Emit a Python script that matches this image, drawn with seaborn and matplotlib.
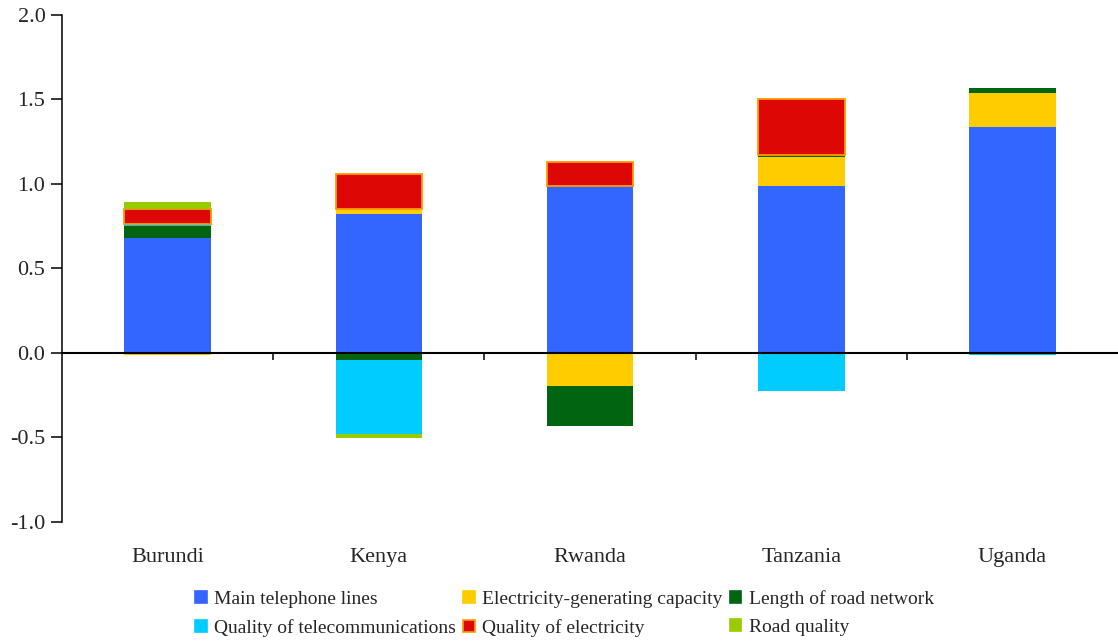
import numpy as np
import pandas as pd
import matplotlib
matplotlib.use('Agg')
import matplotlib.pyplot as plt
import seaborn as sns
from matplotlib.patches import Patch

countries = ['Burundi', 'Kenya', 'Rwanda', 'Tanzania', 'Uganda']

# contributions per country, one list per series
telephone_lines = [0.68, 0.82, 0.99, 0.99, 1.34]
elec_capacity = [-0.01, 0.03, -0.195, 0.17, 0.20]
road_length = [0.07, -0.04, -0.24, 0.01, 0.03]
telecom_quality = [0.015, -0.44, 0.0, -0.225, -0.01]
elec_quality = [0.085, 0.21, 0.14, 0.33, 0.0]
road_quality = [0.045, -0.025, 0.0, 0.0, 0.0]

series_names = ['Main telephone lines', 'Electricity-generating capacity',
                'Length of road network', 'Quality of telecommunications',
                'Quality of electricity', 'Road quality']
series_values = [telephone_lines, elec_capacity, road_length,
                 telecom_quality, elec_quality, road_quality]
series_colors = ['#3366FF', '#FFCC00', '#006411', '#00CCFF', '#DD0806', '#99CC00']
series_edges = ['none', 'none', 'none', 'none', '#FF9900', 'none']

sns.set_style('white')
plt.rcParams['font.family'] = ['Liberation Serif', 'DejaVu Serif']

fig = plt.figure(figsize=(11.18, 6.41), dpi=100)
ax = fig.add_axes([0.0555, 0.1857, 0.9445, 0.7909])

pos_base = np.zeros(len(countries))
neg_base = np.zeros(len(countries))
for name, vals, col, edge in zip(series_names, series_values, series_colors, series_edges):
    vals = np.array(vals, dtype=float)
    bottom = np.where(vals >= 0, pos_base, neg_base)
    df = pd.DataFrame({'country': countries, 'value': vals})
    n_before = len(ax.patches)
    sns.barplot(data=df, x='country', y='value', order=countries, color=col,
                width=0.41, bottom=bottom, edgecolor=edge,
                linewidth=1.3 if edge != 'none' else 0, saturation=1,
                errorbar=None, ax=ax)
    # empty segments should not leave an outline
    for p in ax.patches[n_before:]:
        if p.get_height() == 0:
            p.set_linewidth(0)
    pos_base = pos_base + np.where(vals >= 0, vals, 0)
    neg_base = neg_base + np.where(vals < 0, vals, 0)

ax.set_xlim(-0.5, len(countries) - 0.5)
ax.set_ylim(-1.0, 2.0)
ax.set_yticks(np.arange(-1.0, 2.01, 0.5))
ax.set_yticklabels([f'{v:.1f}' for v in np.arange(-1.0, 2.01, 0.5)])
ax.set_xlabel('')
ax.set_ylabel('')

for s in ['top', 'right']:
    ax.spines[s].set_visible(False)
ax.spines['left'].set_color('black')
ax.spines['left'].set_linewidth(1.1)
ax.spines['bottom'].set_position(('data', 0))
ax.spines['bottom'].set_color('black')
ax.spines['bottom'].set_linewidth(1.5)

# zero axis: ticks between categories, no labels
ax.set_xticks(np.arange(0.5, len(countries) - 0.5, 1.0))
ax.set_xticklabels([])
ax.tick_params(axis='x', direction='out', length=5, width=1.1, color='black', bottom=True)
ax.tick_params(axis='y', direction='out', length=8, width=1.1, color='black',
               left=True, labelsize=16, pad=4)

# category labels at the bottom of the plot area
sec = ax.secondary_xaxis('bottom')
sec.set_xticks(range(len(countries)))
sec.set_xticklabels(countries)
sec.tick_params(length=0, labelsize=16, pad=19)
sec.spines['bottom'].set_visible(False)

handles = [Patch(facecolor=c, edgecolor=(e if e != 'none' else c), linewidth=1.2, label=n)
           for n, c, e in zip(series_names, series_colors, series_edges)]
# legend fills column by column, reorder so rows read left to right
order = [0, 3, 1, 4, 2, 5]
fig.legend([handles[i] for i in order], [series_names[i] for i in order],
           loc='center', bbox_to_anchor=(0.505, 0.043), ncol=3, frameon=False,
           fontsize=14, handlelength=0.6, handleheight=0.6, handletextpad=0.4,
           columnspacing=0.35, labelspacing=0.55)

fig.savefig('out.png', dpi=100)
